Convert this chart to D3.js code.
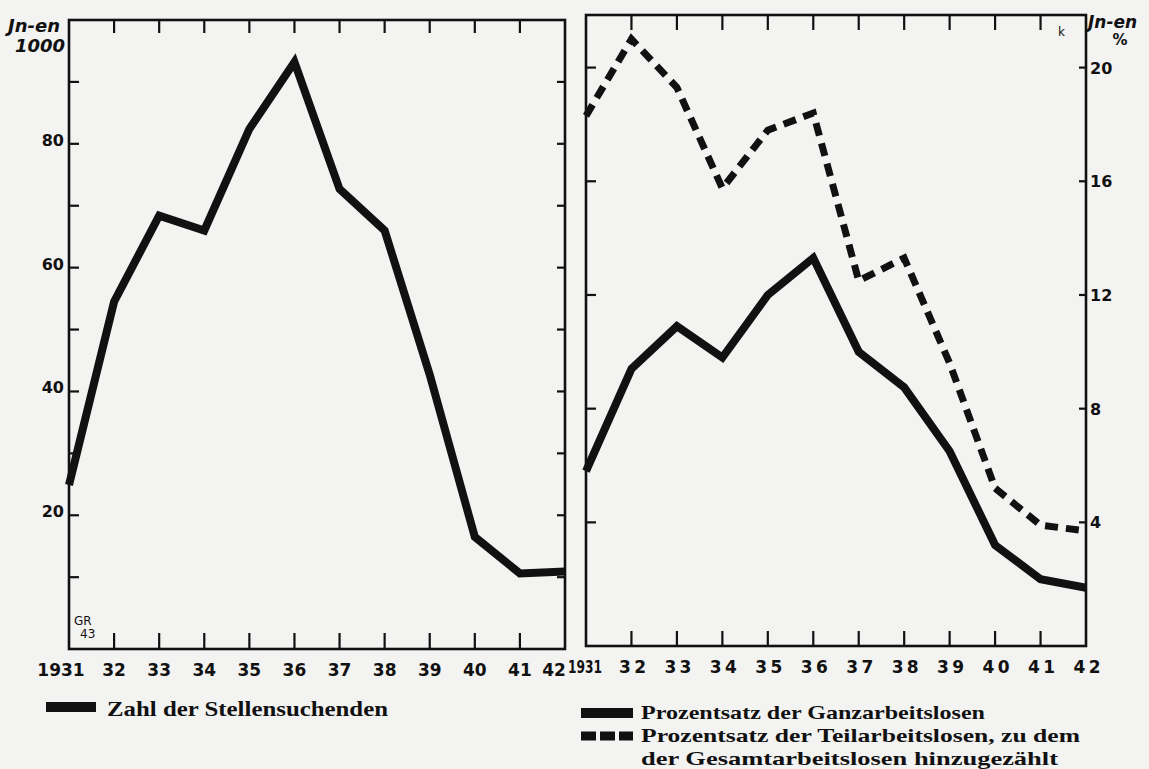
<!DOCTYPE html>
<html>
<head>
<meta charset="utf-8">
<script src="https://cdn.jsdelivr.net/npm/d3@7"></script>
<style>
  html, body { margin: 0; padding: 0; background: #f3f3f2; }
  svg { display: block; }
</style>
</head>
<body>
<svg id="chart" width="1149" height="769"></svg>
<script>
// ---- data ----
const years = [1931, 1932, 1933, 1934, 1935, 1936, 1937, 1938, 1939, 1940, 1941, 1942];
// Zahl der Stellensuchenden, in 1000
const stellensuchende = [24.9, 54.5, 68.4, 66.0, 82.4, 93.2, 72.7, 66.0, 42.7, 16.5, 10.6, 10.9];
// Prozentsatz der Ganzarbeitslosen
const ganzarbeitslose = [5.8, 9.4, 10.9, 9.8, 12.0, 13.3, 10.0, 8.75, 6.5, 3.2, 2.0, 1.7];
// Prozentsatz der Teilarbeitslosen, zu dem der Gesamtarbeitslosen hinzugezählt
const gesamtarbeitslose = [18.3, 21.0, 19.3, 15.75, 17.8, 18.4, 12.5, 13.3, 9.6, 5.2, 3.9, 3.7];

const leftTickValues = [10, 20, 30, 40, 50, 60, 70, 80, 90];
const leftTickLabels = [20, 40, 60, 80];
const rightTickValues = [4, 8, 12, 16, 20];
const rightTickLabels = [4, 8, 12, 16, 20];

const legendLeft = ["Zahl der Stellensuchenden"];
const legendRight = ["Prozentsatz der Ganzarbeitslosen",
                     "Prozentsatz der Teilarbeitslosen, zu dem",
                     "der Gesamtarbeitslosen hinzugezählt"];

// ---- drawing ----
const ink = "#111";
const svg = d3.select("#chart");
const digitFont = "'DejaVu Sans', sans-serif";

// Left panel scales
const xL = d3.scaleLinear().domain([1931, 1942]).range([69, 565]);
const yL = d3.scaleLinear().domain([-1.6, 100]).range([649, 20]);
// Right panel scales
const xR = d3.scaleLinear().domain([1931, 1942]).range([586, 1086]);
const yR = d3.scaleLinear().domain([-0.35, 21.85]).range([646, 15]);

function frame(x, y, tickTop, tickBot) {
  const g = svg.append("g");
  const [x0, x1] = x.range();
  const [yb, yt] = y.range();
  g.append("rect").attr("x", x0).attr("y", yt).attr("width", x1 - x0).attr("height", yb - yt)
    .attr("fill", "none").attr("stroke", ink).attr("stroke-width", 2.6);
  g.selectAll(".tt").data(years.slice(1, -1)).join("line")
    .attr("x1", d => x(d)).attr("x2", d => x(d))
    .attr("y1", yt).attr("y2", yt + tickTop)
    .attr("stroke", ink).attr("stroke-width", 2.2);
  g.selectAll(".bt").data(years.slice(1, -1)).join("line")
    .attr("x1", d => x(d)).attr("x2", d => x(d))
    .attr("y1", yb + 1).attr("y2", yb - tickBot)
    .attr("stroke", ink).attr("stroke-width", 2.2);
  return g;
}

// ---------- LEFT PANEL ----------
const gL = frame(xL, yL, 13, 16);
gL.selectAll(".lt").data(leftTickValues).join("line")
  .attr("x1", xL(1931)).attr("x2", xL(1931) + 10)
  .attr("y1", d => yL(d)).attr("y2", d => yL(d))
  .attr("stroke", ink).attr("stroke-width", 2.2);
gL.selectAll(".rt").data(leftTickValues).join("line")
  .attr("x1", xL(1942)).attr("x2", xL(1942) - 8)
  .attr("y1", d => yL(d)).attr("y2", d => yL(d))
  .attr("stroke", ink).attr("stroke-width", 2.2);
gL.selectAll(".ll").data(leftTickLabels).join("text")
  .attr("x", xL(1931) - 5).attr("y", d => yL(d) + 2)
  .attr("text-anchor", "end").attr("font-family", digitFont)
  .attr("font-weight", "bold").attr("font-size", 16).attr("fill", ink)
  .text(d => d);
gL.append("text").attr("x", 8).attr("y", 32)
  .attr("font-family", digitFont).attr("font-weight", "bold").attr("font-style", "italic")
  .attr("font-size", 18).attr("fill", ink).text("Jn-en");
gL.append("text").attr("x", 15).attr("y", 52)
  .attr("font-family", digitFont).attr("font-weight", "bold").attr("font-style", "italic")
  .attr("font-size", 18).attr("fill", ink).text("1000");
gL.selectAll(".yl").data(years).join("text")
  .attr("x", d => d === 1931 ? xL(d) - 8 : (d === 1942 ? xL(d) - 11 : xL(d)))
  .attr("y", 676)
  .attr("text-anchor", "middle").attr("font-family", digitFont)
  .attr("font-weight", "bold").attr("font-size", 17).attr("fill", ink)
  .text(d => d === 1931 ? String(d) : String(d).slice(2));
gL.append("text").attr("x", 74).attr("y", 625).attr("font-family", digitFont)
  .attr("font-size", 12).attr("fill", ink).text("GR");
gL.append("text").attr("x", 80).attr("y", 638).attr("font-family", digitFont)
  .attr("font-size", 12).attr("fill", ink).text("43");

const lineL = d3.line().x((d, i) => xL(years[i])).y(d => yL(d));
gL.append("path").datum(stellensuchende).attr("d", lineL)
  .attr("fill", "none").attr("stroke", ink).attr("stroke-width", 8)
  .attr("stroke-linejoin", "miter").attr("stroke-miterlimit", 3);

// ---------- RIGHT PANEL ----------
const gR = frame(xR, yR, 15, 15);
gR.selectAll(".lt").data(rightTickValues).join("line")
  .attr("x1", xR(1931)).attr("x2", xR(1931) + 10)
  .attr("y1", d => yR(d)).attr("y2", d => yR(d))
  .attr("stroke", ink).attr("stroke-width", 2.2);
gR.selectAll(".rt").data(rightTickValues).join("line")
  .attr("x1", xR(1942)).attr("x2", xR(1942) - 7)
  .attr("y1", d => yR(d)).attr("y2", d => yR(d))
  .attr("stroke", ink).attr("stroke-width", 2.2);
gR.selectAll(".rl").data(rightTickLabels).join("text")
  .attr("x", xR(1942) + 4).attr("y", d => yR(d) + 6)
  .attr("text-anchor", "start").attr("font-family", digitFont)
  .attr("font-weight", "bold").attr("font-size", 16).attr("fill", ink)
  .text(d => d);
gR.append("text").attr("x", 1088).attr("y", 28)
  .attr("font-family", digitFont).attr("font-weight", "bold").attr("font-style", "italic")
  .attr("font-size", 17).attr("fill", ink).text("Jn-en");
gR.append("text").attr("x", 1120).attr("y", 45).attr("text-anchor", "middle")
  .attr("font-family", digitFont).attr("font-weight", "bold")
  .attr("font-size", 15).attr("fill", ink).text("%");
gR.append("text").attr("x", 1058).attr("y", 36)
  .attr("font-family", digitFont).attr("font-size", 12).attr("fill", ink).text("k");
gR.selectAll(".yl").data(years).join("text")
  .attr("x", d => d === 1931 ? xR(d) - 1 : xR(d) + 1)
  .attr("y", 673)
  .attr("text-anchor", "middle").attr("font-family", digitFont)
  .attr("font-weight", "bold").attr("font-size", 17).attr("fill", ink)
  .attr("textLength", d => d === 1931 ? 34 : null)
  .attr("lengthAdjust", "spacingAndGlyphs")
  .text(d => d === 1931 ? String(d) : String(d).slice(2).split("").join("\u2009"));

const lineR = d3.line().x((d, i) => xR(years[i])).y(d => yR(d));
gR.append("path").datum(gesamtarbeitslose).attr("d", lineR)
  .attr("fill", "none").attr("stroke", ink).attr("stroke-width", 7)
  .attr("stroke-dasharray", "13,8").attr("stroke-linejoin", "miter");
gR.append("path").datum(ganzarbeitslose).attr("d", lineR)
  .attr("fill", "none").attr("stroke", ink).attr("stroke-width", 8)
  .attr("stroke-linejoin", "miter").attr("stroke-miterlimit", 3);

// ---------- LEGENDS ----------
const serif = "'Liberation Serif', 'DejaVu Serif', serif";
const lg = svg.append("g");
lg.append("line").attr("x1", 46).attr("x2", 96).attr("y1", 707).attr("y2", 707)
  .attr("stroke", ink).attr("stroke-width", 10);
lg.append("text").attr("x", 107).attr("y", 716).attr("font-family", serif)
  .attr("font-weight", "bold").attr("font-size", 22).attr("fill", ink)
  .attr("textLength", 281).attr("lengthAdjust", "spacingAndGlyphs").text(legendLeft[0]);

lg.append("line").attr("x1", 581).attr("x2", 633).attr("y1", 713).attr("y2", 713)
  .attr("stroke", ink).attr("stroke-width", 10);
lg.append("line").attr("x1", 581).attr("x2", 633).attr("y1", 736).attr("y2", 736)
  .attr("stroke", ink).attr("stroke-width", 9).attr("stroke-dasharray", "15,4");
const rWidths = [344, 439, 417];
const rBase = [719, 742, 765];
legendRight.forEach((t, i) => {
  lg.append("text").attr("x", 641).attr("y", rBase[i]).attr("font-family", serif)
    .attr("font-weight", "bold").attr("font-size", 19).attr("fill", ink)
    .attr("textLength", rWidths[i]).attr("lengthAdjust", "spacingAndGlyphs").text(t);
});
</script>
</body>
</html>
